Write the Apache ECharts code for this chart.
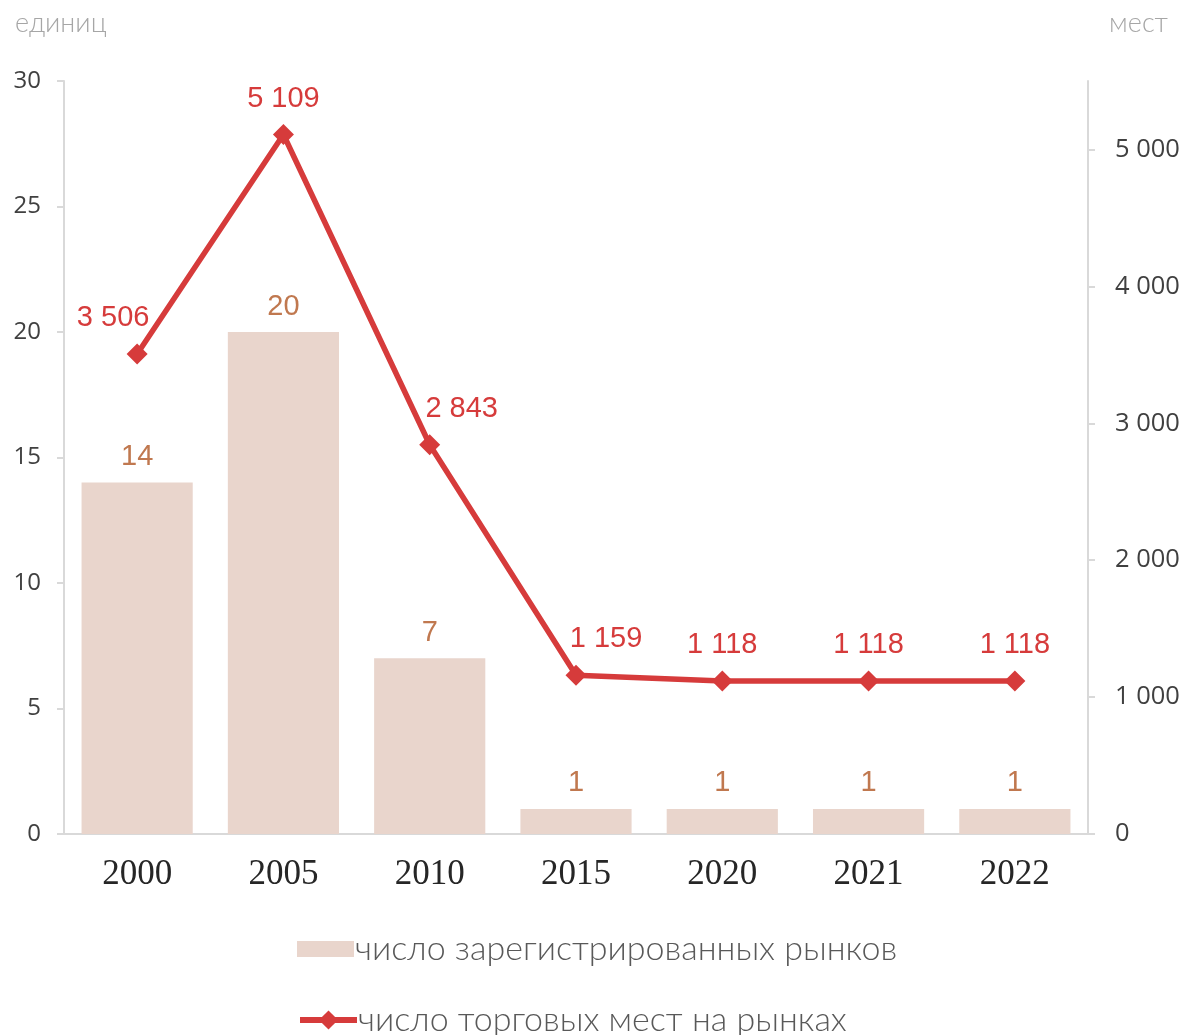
<!DOCTYPE html>
<html><head><meta charset="utf-8">
<script src="https://cdn.jsdelivr.net/npm/echarts@6/dist/echarts.min.js"></script>
<style>html,body{margin:0;padding:0;background:#fff}#c{width:1183px;height:1035px}</style>
</head><body><div id="c"></div>
<script>
const years = ['2000','2005','2010','2015','2020','2021','2022'];
const markets = [14, 20, 7, 1, 1, 1, 1];
const places = [3506, 5109, 2843, 1159, 1118, 1118, 1118];
const leftTicks = {min: 0, max: 30, interval: 5};
const rightTicks = {min: 0, max: 5500, interval: 1000};
const seriesNames = ['число зарегистрированных рынков', 'число торговых мест на рынках'];
const unitLeft = 'единиц';
const unitRight = 'мест';

const fmt = v => String(v).replace(/\B(?=(\d{3})+(?!\d))/g, ' ');
const lineLabelOffsets = [[-24, 0], [0, 0], [32, 0], [30, 0], [0, 0], [0, 0], [0, 0]];
const legendText = {fontFamily: 'Lato', fontWeight: 300, fontSize: 34, color: '#595959', padding: [0, 0, 0, -4]};

const chart = echarts.init(document.getElementById('c'), null, {renderer: 'canvas'});
chart.setOption({
  backgroundColor: '#fff',
  animation: false,
  title: [
    {text: unitLeft, left: 10, top: 5, textStyle: {fontFamily: 'Lato', fontWeight: 300, fontSize: 27, color: '#A6A6A6'}},
    {text: unitRight, right: 10, top: 5, textStyle: {fontFamily: 'Lato', fontWeight: 300, fontSize: 27, color: '#A6A6A6'}}
  ],
  grid: {left: 64, right: 95, top: 81, bottom: 201},
  legend: [
    {
      left: 292, top: 927, itemWidth: 57, itemHeight: 16,
      textStyle: legendText,
      data: [{name: seriesNames[0], icon: 'rect'}]
    },
    {
      left: 292, top: 998, itemWidth: 57, itemHeight: 24,
      textStyle: legendText,
      data: [{name: seriesNames[1], lineStyle: {width: 6}}]
    }
  ],
  xAxis: {
    type: 'category', data: years,
    axisLine: {lineStyle: {color: '#D9D9D9', width: 2}},
    axisTick: {show: false},
    axisLabel: {fontFamily: 'Liberation Serif', fontSize: 35, color: '#262626', margin: 23}
  },
  yAxis: [
    {
      type: 'value', min: leftTicks.min, max: leftTicks.max, interval: leftTicks.interval,
      splitLine: {show: false},
      axisLine: {show: true, lineStyle: {color: '#D9D9D9', width: 2}},
      axisTick: {show: true, length: 7, lineStyle: {color: '#D9D9D9', width: 2}},
      axisLabel: {fontFamily: 'Open Sans', fontSize: 24, color: '#404040', margin: 23}
    },
    {
      type: 'value', min: rightTicks.min, max: rightTicks.max, interval: rightTicks.interval,
      splitLine: {show: false},
      axisLine: {show: true, lineStyle: {color: '#D9D9D9', width: 2}},
      axisTick: {show: true, length: 7, lineStyle: {color: '#D9D9D9', width: 2}},
      axisLabel: {fontFamily: 'Open Sans', fontSize: 25.5, color: '#404040', margin: 27, showMaxLabel: false,
        formatter: v => (v % 1000 === 0 ? fmt(v) : '')}
    }
  ],
  series: [
    {
      name: seriesNames[0], type: 'bar', yAxisIndex: 0, data: markets,
      barCategoryGap: '24%',
      itemStyle: {color: '#E9D5CC'},
      label: {show: true, position: 'top', distance: 11, fontFamily: 'Liberation Sans', fontSize: 29, color: '#C0784F'}
    },
    {
      name: seriesNames[1], type: 'line', yAxisIndex: 1,
      data: places.map((v, i) => ({value: v, label: {offset: lineLabelOffsets[i]}})),
      lineStyle: {color: '#D63B3B', width: 5.5},
      itemStyle: {color: '#D63B3B'},
      symbol: 'diamond', symbolSize: 21,
      label: {show: true, position: 'top', distance: 11, fontFamily: 'Liberation Sans', fontSize: 29, color: '#D63B3B', formatter: p => fmt(p.value)}
    }
  ]
});
</script></body></html>
